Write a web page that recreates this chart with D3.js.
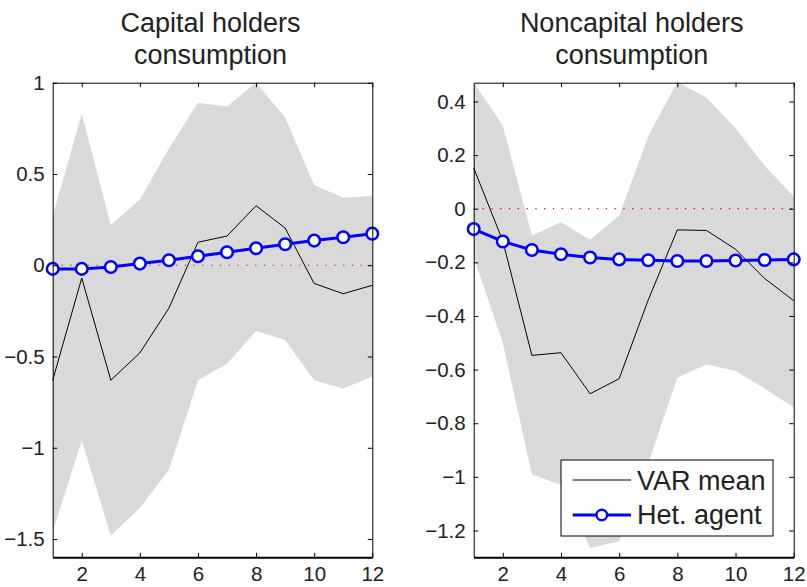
<!DOCTYPE html>
<html><head><meta charset="utf-8">
<script src="https://cdn.jsdelivr.net/npm/d3@7"></script>
<style>body{margin:0;background:#fff}svg{display:block}text{font-family:"Liberation Sans",Arial,sans-serif;fill:#222}</style>
</head><body><svg id="c" width="807" height="587"></svg>
<script>
const horizons = [1,2,3,4,5,6,7,8,9,10,11,12];
const xTicks = [2,4,6,8,10,12];

// Capital holders consumption
const capUpper = [0.27,0.83,0.22,0.36,0.64,0.89,0.87,1.0,0.81,0.44,0.37,0.38];
const capLower = [-1.46,-0.96,-1.48,-1.33,-1.12,-0.63,-0.54,-0.36,-0.41,-0.63,-0.675,-0.61];
const capVar   = [-0.63,-0.07,-0.63,-0.48,-0.235,0.126,0.16,0.326,0.204,-0.10,-0.156,-0.11];
const capHet   = [-0.02,-0.02,-0.01,0.009,0.027,0.049,0.071,0.093,0.115,0.135,0.153,0.173];
const capYTicks = [1,0.5,0,-0.5,-1,-1.5];
const capYLabels = ["1","0.5","0","\u22120.5","\u22121","\u22121.5"];

// Noncapital holders consumption
const ncUpper = [0.47,0.31,-0.10,-0.05,-0.116,-0.026,0.27,0.473,0.415,0.30,0.16,0.046];
const ncLower = [-0.18,-0.50,-0.99,-1.03,-1.265,-1.24,-0.95,-0.63,-0.58,-0.605,-0.67,-0.74];
const ncVar   = [0.152,-0.12,-0.547,-0.537,-0.69,-0.634,-0.34,-0.079,-0.081,-0.151,-0.26,-0.343];
const ncHet   = [-0.076,-0.122,-0.154,-0.17,-0.182,-0.189,-0.192,-0.195,-0.195,-0.193,-0.191,-0.189];
const ncYTicks = [0.4,0.2,0,-0.2,-0.4,-0.6,-0.8,-1,-1.2];
const ncYLabels = ["0.4","0.2","0","\u22120.2","\u22120.4","\u22120.6","\u22120.8","\u22121","\u22121.2"];

const titles = [["Capital holders","consumption"],["Noncapital holders","consumption"]];
const legendLabels = ["VAR mean","Het. agent"];

const svg = d3.select("#c");
const panels = [
  {x0:52.7,x1:372.3,dom:[-1.6,1],up:capUpper,lo:capLower,v:capVar,h:capHet,yt:capYTicks,yl:capYLabels,title:titles[0]},
  {x0:473.7,x1:793.7,dom:[-1.3,0.47],up:ncUpper,lo:ncLower,v:ncVar,h:ncHet,yt:ncYTicks,yl:ncYLabels,title:titles[1]}
];
const y0=82.7, y1=557.3;
const BLUE="#0000ff";

panels.forEach((p,pi)=>{
  const x = d3.scaleLinear().domain([1,12]).range([p.x0,p.x1]);
  const y = d3.scaleLinear().domain(p.dom).range([y1,y0]);
  const g = svg.append("g");
  const band = horizons.map((h,i)=>({h,u:p.up[i],l:p.lo[i]}));
  g.append("path").datum(band)
    .attr("d",d3.area().x(d=>x(d.h)).y0(d=>y(d.l)).y1(d=>y(d.u)))
    .attr("fill","#d9d9d9");
  g.append("line").attr("x1",x(1)).attr("x2",x(12)).attr("y1",y(0)).attr("y2",y(0))
    .attr("stroke","#ff0000").attr("stroke-width",1.2).attr("stroke-dasharray","1.3,7.5");
  g.append("path").datum(p.v)
    .attr("d",d3.line().x((d,i)=>x(horizons[i])).y(d=>y(d)))
    .attr("fill","none").attr("stroke","#000").attr("stroke-width",1);
  g.append("path").datum(p.h)
    .attr("d",d3.line().x((d,i)=>x(horizons[i])).y(d=>y(d)))
    .attr("fill","none").attr("stroke",BLUE).attr("stroke-width",3);
  g.selectAll("circle.m").data(p.h).enter().append("circle")
    .attr("cx",(d,i)=>x(horizons[i])).attr("cy",d=>y(d)).attr("r",5.8)
    .attr("fill","#fff").attr("stroke",BLUE).attr("stroke-width",2.5);

  // axes
  const ax = g.append("g").attr("transform",`translate(${p.x0},0)`)
    .call(d3.axisLeft(y).tickValues(p.yt).tickFormat((d,i)=>p.yl[i]).tickSizeInner(-4.5).tickSizeOuter(0).tickPadding(8));
  const axB = g.append("g").attr("transform",`translate(0,${y1})`)
    .call(d3.axisBottom(x).tickValues(xTicks).tickSizeInner(-4.5).tickSizeOuter(0).tickPadding(9));
  const axR = g.append("g").attr("transform",`translate(${p.x1},0)`)
    .call(d3.axisRight(y).tickValues(p.yt).tickFormat("").tickSizeInner(-4.5).tickSizeOuter(0));
  const axT = g.append("g").attr("transform",`translate(0,${y0})`)
    .call(d3.axisTop(x).tickValues(xTicks).tickFormat("").tickSizeInner(-4.5).tickSizeOuter(0));
  [ax,axB,axR,axT].forEach(a=>{
    a.select(".domain").attr("stroke","#000").attr("stroke-width",1);
    a.selectAll(".tick line").attr("stroke","#000").attr("stroke-width",1);
    a.selectAll("text").attr("font-size",20.5).attr("fill","#222").attr("font-family","Liberation Sans, Arial, sans-serif");
  });
  axB.select(".domain").attr("stroke-width",2);
  // title
  const cx=(p.x0+p.x1)/2;
  p.title.forEach((t,i)=>{
    g.append("text").attr("x",cx-2).attr("y",32+i*32).attr("text-anchor","middle")
      .attr("font-size",27).text(t);
  });
});

// legend (right panel)
const lg = svg.append("g");
lg.append("rect").attr("x",561).attr("y",460).attr("width",212).attr("height",76)
  .attr("fill","#fff").attr("stroke","#000").attr("stroke-width",1);
lg.append("line").attr("x1",572.7).attr("x2",631).attr("y1",480).attr("y2",480).attr("stroke","#000").attr("stroke-width",1);
lg.append("line").attr("x1",572.7).attr("x2",631).attr("y1",515).attr("y2",515).attr("stroke",BLUE).attr("stroke-width",3);
lg.append("circle").attr("cx",601.8).attr("cy",515).attr("r",5.3).attr("fill","#fff").attr("stroke",BLUE).attr("stroke-width",2.4);
legendLabels.forEach((t,i)=>{
  lg.append("text").attr("x",637).attr("y",490+i*34).attr("font-size",27).text(t);
});
</script></body></html>
